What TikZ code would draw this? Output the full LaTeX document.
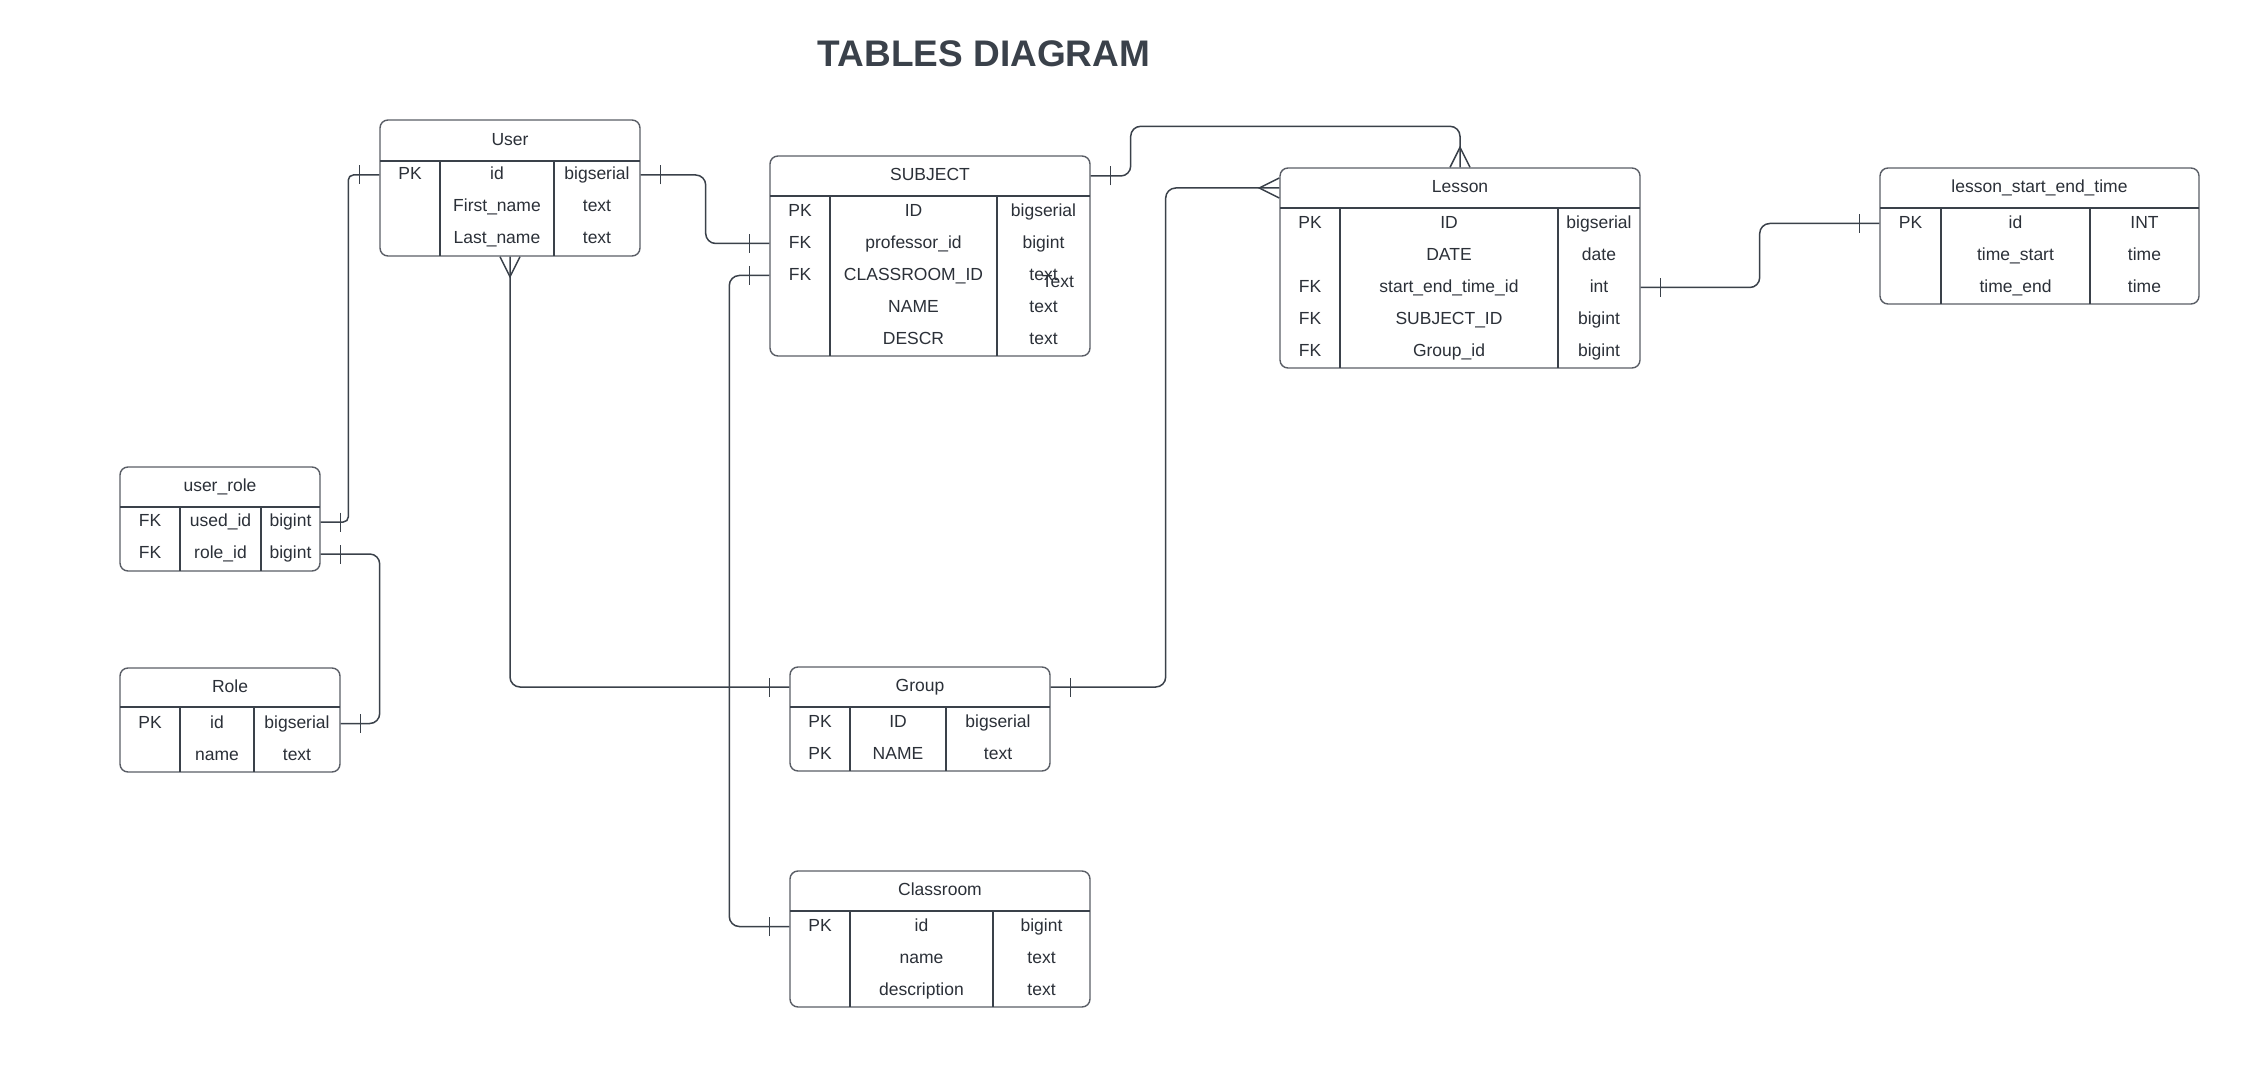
\documentclass[tikz,border=0pt]{standalone}
\usepackage{fontspec}
\setmainfont{Liberation Sans}
\usetikzlibrary{decorations.markings}
\definecolor{inkgray}{HTML}{3A414A}
\definecolor{boxgray}{HTML}{5A5E66}
\definecolor{textgray}{HTML}{2B3038}
\newcommand{\cellsize}{\fontsize{17.5}{21}\selectfont}

\begin{document}
\begin{tikzpicture}[
    x=1pt, y=-1pt,
    font=\cellsize,
    tbl/.style={draw=boxgray, line width=1.4pt, rounded corners=8pt, fill=white, inner sep=0pt},
    tblline/.style={draw=inkgray, line width=1.2pt},
    cell/.style={text=textgray, inner sep=0pt, text height=13pt, text depth=3.4pt},
    link/.style={draw=inkgray, line width=1.5pt, rounded corners=10pt},
    tick start/.style={postaction={decorate, decoration={markings,
        mark=at position 20pt with {\draw[link] (0pt,-9.5pt) -- (0pt,9.5pt);}}}},
    tick end/.style={postaction={decorate, decoration={markings,
        mark=at position -20pt with {\draw[link] (0pt,-9.5pt) -- (0pt,9.5pt);}}}},
    crow start/.style={postaction={decorate, decoration={markings,
        mark=at position 20pt with {\draw[link, rounded corners=0pt] (-20pt,10pt) -- (0pt,0pt) -- (-20pt,-10pt);}}}},
    crow end/.style={postaction={decorate, decoration={markings,
        mark=at position -20pt with {\draw[link, rounded corners=0pt] (20pt,10pt) -- (0pt,0pt) -- (20pt,-10pt);}}}}
]
    \useasboundingbox (0,0) rectangle (2263,1083);

    \node[font=\bfseries\fontsize{37}{44}\selectfont, text=inkgray, anchor=base] (title) at (984,67) {TABLES DIAGRAM};

    % User
    \node[tbl, minimum width=260pt, minimum height=136pt] (user) at (510,188) {};
    \draw[tblline] (380,161) -- (640,161) (440,161) -- (440,256) (554,161) -- (554,256);
    \node[cell] (user-title) at (510,140.5) {User};
    \node[cell] (user-k1) at (410,175) {PK};
    \node[cell] (user-f1) at (497,175) {id};
    \node[cell] (user-t1) at (597,175) {bigserial};
    \node[cell] (user-f2) at (497,207) {First\_name};
    \node[cell] (user-t2) at (597,207) {text};
    \node[cell] (user-f3) at (497,239) {Last\_name};
    \node[cell] (user-t3) at (597,239) {text};

    % SUBJECT
    \node[tbl, minimum width=320pt, minimum height=200pt] (subject) at (930,256) {};
    \draw[tblline] (770,196) -- (1090,196) (830,196) -- (830,356) (997,196) -- (997,356);
    \node[cell] (subject-title) at (930,176) {SUBJECT};
    \node[cell] (subject-k1) at (800,211.5) {PK};
    \node[cell] (subject-f1) at (913.5,211.5) {ID};
    \node[cell] (subject-t1) at (1043.5,211.5) {bigserial};
    \node[cell] (subject-k2) at (800,243.5) {FK};
    \node[cell] (subject-f2) at (913.5,243.5) {professor\_id};
    \node[cell] (subject-t2) at (1043.5,243.5) {bigint};
    \node[cell] (subject-k3) at (800,275.5) {FK};
    \node[cell] (subject-f3) at (913.5,275.5) {CLASSROOM\_ID};
    \node[cell] (subject-t3) at (1043.5,275.5) {text};
    \node[cell] (subject-extra) at (1058,283) {Text};
    \node[cell] (subject-f4) at (913.5,307.5) {NAME};
    \node[cell] (subject-t4) at (1043.5,307.5) {text};
    \node[cell] (subject-f5) at (913.5,339.5) {DESCR};
    \node[cell] (subject-t5) at (1043.5,339.5) {text};

    % Lesson
    \node[tbl, minimum width=360pt, minimum height=200pt] (lesson) at (1460,268) {};
    \draw[tblline] (1280,208) -- (1640,208) (1340,208) -- (1340,368) (1558,208) -- (1558,368);
    \node[cell] (lesson-title) at (1460,188) {Lesson};
    \node[cell] (lesson-k1) at (1310,223.5) {PK};
    \node[cell] (lesson-f1) at (1449,223.5) {ID};
    \node[cell] (lesson-t1) at (1599,223.5) {bigserial};
    \node[cell] (lesson-f2) at (1449,255.5) {DATE};
    \node[cell] (lesson-t2) at (1599,255.5) {date};
    \node[cell] (lesson-k3) at (1310,287.5) {FK};
    \node[cell] (lesson-f3) at (1449,287.5) {start\_end\_time\_id};
    \node[cell] (lesson-t3) at (1599,287.5) {int};
    \node[cell] (lesson-k4) at (1310,319.5) {FK};
    \node[cell] (lesson-f4) at (1449,319.5) {SUBJECT\_ID};
    \node[cell] (lesson-t4) at (1599,319.5) {bigint};
    \node[cell] (lesson-k5) at (1310,351.5) {FK};
    \node[cell] (lesson-f5) at (1449,351.5) {Group\_id};
    \node[cell] (lesson-t5) at (1599,351.5) {bigint};

    % lesson_start_end_time
    \node[tbl, minimum width=319pt, minimum height=136pt] (lset) at (2039.5,236) {};
    \draw[tblline] (1880,208) -- (2199,208) (1941,208) -- (1941,304) (2090,208) -- (2090,304);
    \node[cell] (lset-title) at (2039.5,188) {lesson\_start\_end\_time};
    \node[cell] (lset-k1) at (1910.5,223.5) {PK};
    \node[cell] (lset-f1) at (2015.5,223.5) {id};
    \node[cell] (lset-t1) at (2144.5,223.5) {INT};
    \node[cell] (lset-f2) at (2015.5,255.5) {time\_start};
    \node[cell] (lset-t2) at (2144.5,255.5) {time};
    \node[cell] (lset-f3) at (2015.5,287.5) {time\_end};
    \node[cell] (lset-t3) at (2144.5,287.5) {time};

    % user_role
    \node[tbl, minimum width=200pt, minimum height=104pt] (urole) at (220,519) {};
    \draw[tblline] (120,507) -- (320,507) (180,507) -- (180,571) (261,507) -- (261,571);
    \node[cell] (urole-title) at (220,487) {user\_role};
    \node[cell] (urole-k1) at (150,522) {FK};
    \node[cell] (urole-f1) at (220.5,522) {used\_id};
    \node[cell] (urole-t1) at (290.5,522) {bigint};
    \node[cell] (urole-k2) at (150,554) {FK};
    \node[cell] (urole-f2) at (220.5,554) {role\_id};
    \node[cell] (urole-t2) at (290.5,554) {bigint};

    % Role
    \node[tbl, minimum width=220pt, minimum height=104pt] (role) at (230,720) {};
    \draw[tblline] (120,707) -- (340,707) (180,707) -- (180,772) (254,707) -- (254,772);
    \node[cell] (role-title) at (230,687.5) {Role};
    \node[cell] (role-k1) at (150,723.5) {PK};
    \node[cell] (role-f1) at (217,723.5) {id};
    \node[cell] (role-t1) at (297,723.5) {bigserial};
    \node[cell] (role-f2) at (217,755.5) {name};
    \node[cell] (role-t2) at (297,755.5) {text};

    % Group
    \node[tbl, minimum width=260pt, minimum height=104pt] (group) at (920,719) {};
    \draw[tblline] (790,707) -- (1050,707) (850,707) -- (850,771) (946,707) -- (946,771);
    \node[cell] (group-title) at (920,687) {Group};
    \node[cell] (group-k1) at (820,723) {PK};
    \node[cell] (group-f1) at (898,723) {ID};
    \node[cell] (group-t1) at (998,723) {bigserial};
    \node[cell] (group-k2) at (820,755) {PK};
    \node[cell] (group-f2) at (898,755) {NAME};
    \node[cell] (group-t2) at (998,755) {text};

    % Classroom
    \node[tbl, minimum width=300pt, minimum height=136pt] (classroom) at (940,939) {};
    \draw[tblline] (790,911) -- (1090,911) (850,911) -- (850,1007) (993,911) -- (993,1007);
    \node[cell] (classroom-title) at (940,891) {Classroom};
    \node[cell] (classroom-k1) at (820,926.5) {PK};
    \node[cell] (classroom-f1) at (921.5,926.5) {id};
    \node[cell] (classroom-t1) at (1041.5,926.5) {bigint};
    \node[cell] (classroom-f2) at (921.5,958.5) {name};
    \node[cell] (classroom-t2) at (1041.5,958.5) {text};
    \node[cell] (classroom-f3) at (921.5,990.5) {description};
    \node[cell] (classroom-t3) at (1041.5,990.5) {text};

    % relations
    \draw[link, tick start, tick end] (user.east |- user-t1) -- ++(65,0) |- (subject.west |- subject-t2);
    \draw[link, rounded corners=5pt, tick start, tick end] (user.west |- user-t1) -- ++(-31,0) |- (urole.east |- urole-t1);
    \draw[link, tick start, tick end] (urole.east |- urole-t2) -- ++(59,0) |- (role.east |- role-t1);
    \draw[link, crow start, tick end] (user.south) |- (group.west |- group-title);
    \draw[link, tick start, tick end] (subject.west |- subject-t3) -- ++(-40,0) |- (classroom.west |- classroom-t1);
    \draw[link, tick start, crow end] (subject.east |- subject-title) -- ++(40,0) |- ([yshift=41pt]lesson.north) -- (lesson.north);
    \draw[link, tick start, crow end] (group.east |- group-title) -- ++(115,0) |- (lesson.west |- lesson-title);
    \draw[link, tick start, tick end] (lesson.east |- lesson-t3) -- ++(119,0) |- (lset.west |- lset-t1);
\end{tikzpicture}
\end{document}
